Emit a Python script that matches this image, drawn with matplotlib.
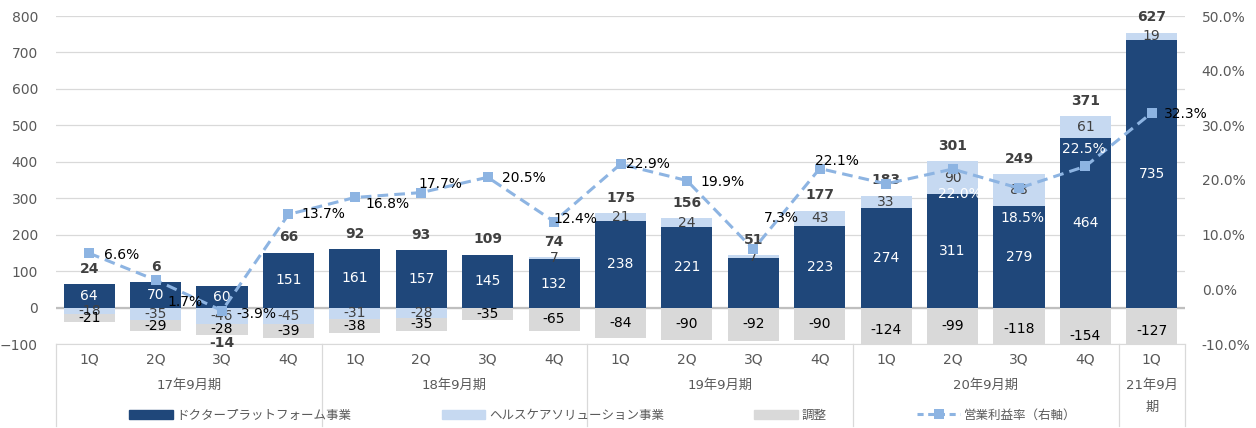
import numpy as np
import matplotlib.pyplot as plt
import matplotlib.transforms as mtransforms
from matplotlib.lines import Line2D
from matplotlib.patches import Patch

plt.rcParams['font.family'] = ['DejaVu Sans', 'Noto Sans CJK JP']

# データ（百万円）
quarters = ['1Q', '2Q', '3Q', '4Q'] * 4 + ['1Q']
periods = ['17年9月期', '18年9月期', '19年9月期', '20年9月期', '21年9月\n期']
period_sizes = [4, 4, 4, 4, 1]

doctor = [64, 70, 60, 151, 161, 157, 145, 132, 238, 221, 136, 223, 274, 311, 279, 464, 735]
health = [-18, -35, -46, -45, -31, -28, 0, 7, 21, 24, 7, 43, 33, 90, 88, 61, 19]
adjust = [-21, -29, -28, -39, -38, -35, -35, -65, -84, -90, -92, -90, -124, -99, -118, -154, -127]
total = [24, 6, -14, 66, 92, 93, 109, 74, 175, 156, 51, 177, 183, 301, 249, 371, 627]
margin = [6.6, 1.7, -3.9, 13.7, 16.8, 17.7, 20.5, 12.4, 22.9, 19.9, 7.3, 22.1, 19.3, 22.0, 18.5, 22.5, 32.3]

# 表示しないラベル（元の図で隠れているもの）
hide_doctor = [10]
hide_margin = [12]

# 営業利益率ラベルの位置調整 (px) と色
margin_off = [(32, -2), (29, -22), (34, -3), (35, 0), (33, -7), (19, 9), (36, -1), (21, 3),
              (27, 0), (36, -1), (28, 31), (17, 8), (0, 0), (7, -25), (3, -30), (-2, 17), (34, -1)]
white_margin = [13, 14, 15]

c_dark = '#1F477A'
c_light = '#C6D9F1'
c_gray = '#D9D9D9'
c_line = '#8DB4E2'
c_text = '#595959'

fig = plt.figure(figsize=(12.56, 4.28), dpi=100)
ax = fig.add_axes([56 / 1256, 1 - 344 / 428, (1185 - 56) / 1256, 328 / 428])
x = np.arange(len(doctor))
w = 0.77

doctor = np.array(doctor)
health = np.array(health)
adjust = np.array(adjust)

h_bottom = np.where(health > 0, doctor, 0)
a_bottom = np.where(health < 0, health, 0)

ax.bar(x, doctor, w, color=c_dark, zorder=2)
ax.bar(x, health, w, bottom=h_bottom, color=c_light, zorder=2)
ax.bar(x, adjust, w, bottom=a_bottom, color=c_gray, zorder=2)

fs = 10
for i in x:
    if i not in hide_doctor:
        ax.text(i, doctor[i] / 2, str(doctor[i]), ha='center', va='center',
                color='white', fontsize=fs, zorder=3)
    if health[i] != 0:
        ax.text(i, h_bottom[i] + health[i] / 2, str(health[i]), ha='center', va='center',
                color='#404040', fontsize=fs, zorder=3)
    ax.text(i, a_bottom[i] + adjust[i] / 2, str(adjust[i]), ha='center', va='center',
            color='black', fontsize=fs, zorder=3)
    if total[i] >= 0:
        top = doctor[i] + max(health[i], 0)
        ax.annotate(str(total[i]), (i, top), xytext=(0, 11), textcoords='offset points',
                    ha='center', va='center', fontsize=fs, fontweight='bold',
                    color='#404040', zorder=4)
    else:
        bot = a_bottom[i] + adjust[i]
        ax.annotate(str(total[i]), (i, bot), xytext=(0, -6), textcoords='offset points',
                    ha='center', va='center', fontsize=fs, fontweight='bold',
                    color='#404040', zorder=4)

ax.set_xlim(-0.5, len(doctor) - 0.5)
ax.set_ylim(-100, 800)
ax.set_yticks(range(-100, 801, 100))
ax.yaxis.grid(True, color=c_gray, lw=0.9, zorder=0)
ax.axhline(0, color='#BFBFBF', lw=1.6, zorder=1)
ax.set_axisbelow(True)
for s in ['top', 'right', 'left']:
    ax.spines[s].set_visible(False)
ax.spines['bottom'].set_color(c_gray)
ax.tick_params(axis='y', length=0, pad=13, labelsize=10, labelcolor=c_text)
ax.set_xticks(x, quarters)
ax.tick_params(axis='x', length=0, pad=6, labelsize=10, labelcolor=c_text)

# 年度ラベルと区切り線
trans = mtransforms.blended_transform_factory(ax.transData, ax.transAxes)
edges = np.concatenate([[0], np.cumsum(period_sizes)]) - 0.5
for e in edges:
    ax.plot([e, e], [0, -0.25], transform=trans, color=c_gray, lw=0.9, clip_on=False)
for k, p in enumerate(periods):
    mid = (edges[k] + edges[k + 1]) / 2
    ax.text(mid, -0.105, p, transform=trans, ha='center', va='top', fontsize=9.5,
            color=c_text, linespacing=1.9)

# 営業利益率（右軸）
ax2 = ax.twinx()
ax2.plot(x, margin, color=c_line, lw=2.2, ls=(0, (3.5, 2)), marker='s', markersize=7,
         markeredgewidth=0, zorder=5)
ax2.set_ylim(-10, 50)
ax2.set_yticks(range(-10, 51, 10))
ax2.set_yticklabels([f'{v:.1f}%' for v in range(-10, 51, 10)])
ax2.tick_params(axis='y', length=0, pad=12, labelsize=10, labelcolor=c_text)
for s in ax2.spines.values():
    s.set_visible(False)

for i in x:
    if i in hide_margin:
        continue
    dx, dy = margin_off[i]
    ax2.annotate(f'{margin[i]:.1f}%', (i, margin[i]), xytext=(dx * 0.72, dy * 0.72),
                 textcoords='offset points', ha='center', va='center', fontsize=fs,
                 color='white' if i in white_margin else 'black', zorder=6)

handles = [Patch(color=c_dark), Patch(color=c_light), Patch(color=c_gray),
           Line2D([], [], color=c_line, lw=2.2, ls=(0, (2, 1.5)), marker='s', markersize=7,
                  markeredgewidth=0)]
labels = ['ドクタープラットフォーム事業', 'ヘルスケアソリューション事業', '調整', '営業利益率（右軸）']
fig.legend(handles, labels, loc='center', bbox_to_anchor=(0.48, 0.03), ncol=4,
           frameon=False, fontsize=9, columnspacing=7.2, handlelength=3.5,
           handletextpad=0.3, handleheight=0.8, labelcolor=c_text)

fig.savefig('out.png', dpi=100)
